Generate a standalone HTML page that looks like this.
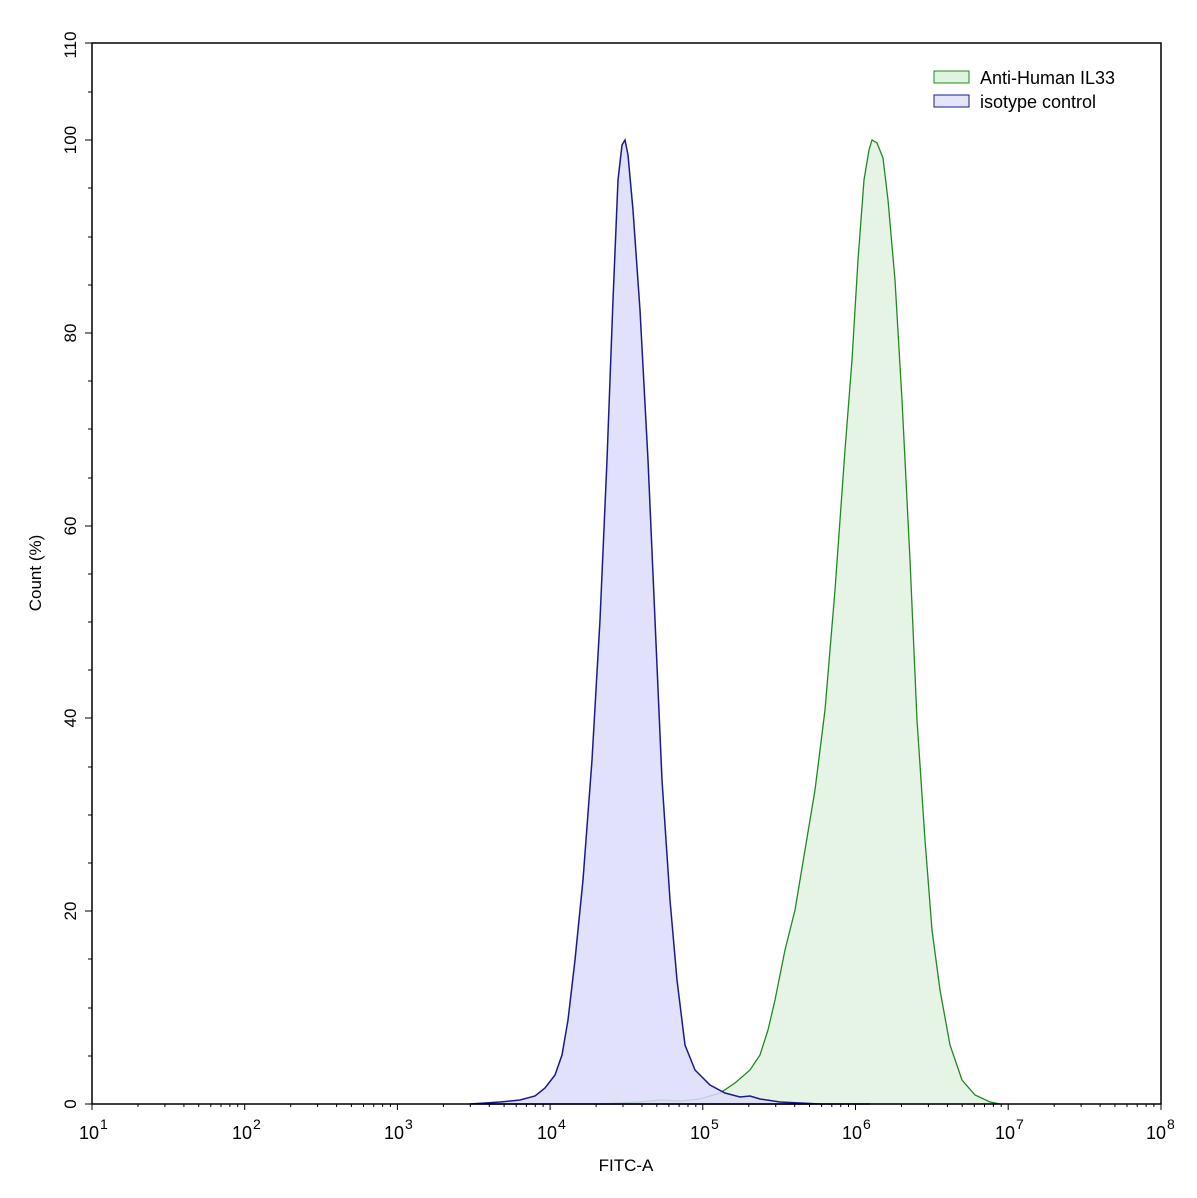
<!DOCTYPE html><html><head><style>body{margin:0;background:#fff}</style></head><body>
<svg width="1197" height="1193" xmlns="http://www.w3.org/2000/svg" font-family="Liberation Sans, sans-serif">
<defs>
<g id="mt" stroke="#000" stroke-width="1">
<line x1="0" y1="1104" x2="0" y2="1110"/>
<line x1="46" y1="1104" x2="46" y2="1107"/><line x1="72.9" y1="1104" x2="72.9" y2="1107"/><line x1="91.9" y1="1104" x2="91.9" y2="1107"/><line x1="106.7" y1="1104" x2="106.7" y2="1107"/><line x1="118.8" y1="1104" x2="118.8" y2="1107"/><line x1="129" y1="1104" x2="129" y2="1107"/><line x1="137.9" y1="1104" x2="137.9" y2="1107"/><line x1="145.7" y1="1104" x2="145.7" y2="1107"/>
</g>
</defs>
<rect width="1197" height="1193" fill="#fff"/>
<path d="M600,1104 L640,1102 L660,1100 L680,1101 L700,1099 L720,1093 L735,1083 L750,1070 L760,1055 L768,1030 L775,1000 L785,950 L795,910 L805,850 L815,790 L825,710 L835,590 L845,450 L852,360 L858,260 L864,180 L869,150 L872,140 L877,143 L883,158 L888,200 L895,280 L902,400 L910,560 L917,720 L925,840 L932,930 L940,990 L950,1045 L962,1080 L975,1095 L990,1102 L1000,1104 Z" fill="#e6f4e6" stroke="#1f8a1f" stroke-width="1.3"/>
<path d="M470,1104 L500,1102 L520,1100 L535,1096 L545,1088 L555,1075 L562,1055 L568,1020 L575,960 L583,880 L592,760 L600,620 L607,460 L613,300 L618,180 L622,145 L625,140 L628,155 L633,210 L640,310 L648,460 L655,620 L662,780 L670,900 L677,980 L685,1045 L695,1070 L710,1085 L725,1093 L740,1097 L750,1096 L760,1099 L780,1102 L820,1104 L870,1104 Z" fill="rgba(220,220,250,0.85)" stroke="#1a1a8c" stroke-width="1.5"/>
<rect x="92" y="43" width="1069" height="1061" fill="none" stroke="#000" stroke-width="1.5"/>
<use href="#mt" x="92"/><use href="#mt" x="244.7"/><use href="#mt" x="397.4"/><use href="#mt" x="550.1"/><use href="#mt" x="702.8"/><use href="#mt" x="855.5"/><use href="#mt" x="1008.2"/>
<line x1="1161" y1="1104" x2="1161" y2="1110" stroke="#000"/>
<g stroke="#000" stroke-width="1">
<line x1="85" y1="1104" x2="92" y2="1104"/><line x1="85" y1="911" x2="92" y2="911"/><line x1="85" y1="718" x2="92" y2="718"/><line x1="85" y1="526" x2="92" y2="526"/><line x1="85" y1="333" x2="92" y2="333"/><line x1="85" y1="140" x2="92" y2="140"/><line x1="85" y1="43" x2="92" y2="43"/>
<line x1="88" y1="1056" x2="92" y2="1056"/><line x1="88" y1="1008" x2="92" y2="1008"/><line x1="88" y1="959" x2="92" y2="959"/>
<line x1="88" y1="863" x2="92" y2="863"/><line x1="88" y1="815" x2="92" y2="815"/><line x1="88" y1="767" x2="92" y2="767"/>
<line x1="88" y1="670" x2="92" y2="670"/><line x1="88" y1="622" x2="92" y2="622"/><line x1="88" y1="574" x2="92" y2="574"/>
<line x1="88" y1="478" x2="92" y2="478"/><line x1="88" y1="429" x2="92" y2="429"/><line x1="88" y1="381" x2="92" y2="381"/>
<line x1="88" y1="285" x2="92" y2="285"/><line x1="88" y1="237" x2="92" y2="237"/><line x1="88" y1="188" x2="92" y2="188"/>
<line x1="88" y1="92" x2="92" y2="92"/>
</g>
<g font-size="17" fill="#000" text-anchor="middle">
<text transform="translate(76,1104) rotate(-90)">0</text>
<text transform="translate(76,911) rotate(-90)">20</text>
<text transform="translate(76,718) rotate(-90)">40</text>
<text transform="translate(76,526) rotate(-90)">60</text>
<text transform="translate(76,333) rotate(-90)">80</text>
<text transform="translate(76,140) rotate(-90)">100</text>
<text transform="translate(76,45) rotate(-90)">110</text>
<text transform="translate(41,573) rotate(-90)">Count  (%)</text>
<text x="626" y="1171">FITC-A</text>
</g>
<g font-size="18" fill="#000">
<text x="79" y="1139">10</text><text x="100" y="1129" font-size="14">1</text>
<text x="232" y="1139">10</text><text x="253" y="1129" font-size="14">2</text>
<text x="384" y="1139">10</text><text x="405" y="1129" font-size="14">3</text>
<text x="537" y="1139">10</text><text x="558" y="1129" font-size="14">4</text>
<text x="690" y="1139">10</text><text x="711" y="1129" font-size="14">5</text>
<text x="842" y="1139">10</text><text x="863" y="1129" font-size="14">6</text>
<text x="995" y="1139">10</text><text x="1016" y="1129" font-size="14">7</text>
<text x="1146" y="1139">10</text><text x="1167" y="1129" font-size="14">8</text>
</g>
<rect x="934" y="71" width="35" height="12" fill="#dff3df" stroke="#1f8a1f"/>
<rect x="934" y="95" width="35" height="12" fill="#e4e4fb" stroke="#1a1a8c"/>
<text x="980" y="84" font-size="18">Anti-Human IL33</text>
<text x="980" y="108" font-size="18">isotype control</text>
</svg></body></html>
